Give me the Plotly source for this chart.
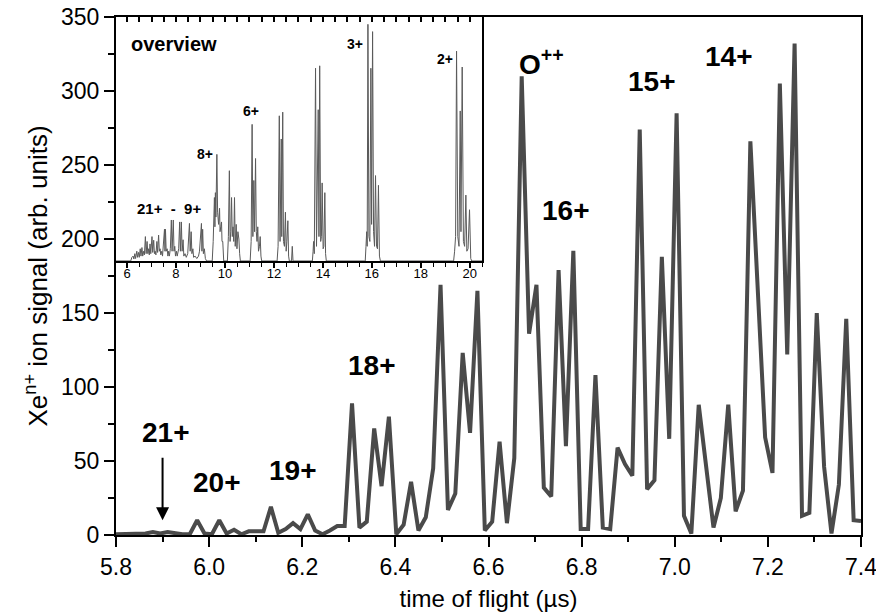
import plotly.graph_objects as go

# ---------------- main spectrum (time of flight in microseconds) ----------------
tof_us = [5.8000, 5.8158, 5.8317, 5.8475, 5.8634, 5.8792, 5.8950, 5.9109, 5.9267, 5.9426,
          5.9584, 5.9743, 5.9901, 6.0059, 6.0218, 6.0376, 6.0535, 6.0693, 6.0851, 6.1010,
          6.1168, 6.1327, 6.1485, 6.1644, 6.1802, 6.1960, 6.2119, 6.2277, 6.2436, 6.2594,
          6.2752, 6.2911, 6.3069, 6.3228, 6.3386, 6.3545, 6.3703, 6.3861, 6.4020, 6.4178,
          6.4337, 6.4495, 6.4653, 6.4812, 6.4970, 6.5129, 6.5287, 6.5446, 6.5604, 6.5762,
          6.5921, 6.6079, 6.6238, 6.6396, 6.6554, 6.6713, 6.6871, 6.7030, 6.7188, 6.7347,
          6.7505, 6.7663, 6.7822, 6.7980, 6.8139, 6.8297, 6.8455, 6.8614, 6.8772, 6.8931,
          6.9089, 6.9248, 6.9406, 6.9564, 6.9723, 6.9881, 7.0040, 7.0198, 7.0356, 7.0515,
          7.0673, 7.0832, 7.0990, 7.1149, 7.1307, 7.1465, 7.1624, 7.1782, 7.1941, 7.2099,
          7.2257, 7.2416, 7.2574, 7.2733, 7.2891, 7.3050, 7.3208, 7.3366, 7.3525, 7.3683,
          7.3842, 7.4000]

signal = [0.5, 0.5, 0.5, 0.5, 1, 2, 1, 2, 1, 0.5,
          0.5, 10, 1, 0.5, 10, 1, 3.5, 0.5, 2.5, 2.5,
          2.5, 19, 1.5, 4, 8, 4, 14, 3, 0.5, 3,
          6, 6, 89, 5, 9, 72, 33, 80, 0.5, 7,
          36, 3, 12, 45, 169, 17, 28, 123, 69, 165,
          3, 9, 63, 8, 52, 310, 136, 169, 32, 26,
          179, 60, 192, 4, 4, 108, 5, 4, 59, 48,
          40, 274, 31, 37, 188, 65, 285, 13, 1, 88,
          46, 5, 25, 88, 16, 30, 266, 166, 66, 42,
          305, 122, 332, 13, 15, 150, 46, 1, 34, 146,
          10, 9.5]

main_x_ticks = [5.8, 6.0, 6.2, 6.4, 6.6, 6.8, 7.0, 7.2, 7.4]
main_x_ticktext = ["5.8", "6.0", "6.2", "6.4", "6.6", "6.8", "7.0", "7.2", "7.4"]

# labels of the main spectrum
main_labels = ["21+", "20+", "19+", "18+", "O<sup>++</sup>", "16+", "15+", "14+"]
main_label_x = [5.907, 6.017, 6.180, 6.350, 6.713, 6.766, 6.951, 7.117]
main_label_y = [69.5, 35.5, 43.5, 114.5, 319.3, 219.3, 306.3, 323.3]

# ---------------- overview inset ----------------
ov_t = [5.55, 6.15, 6.20, 6.25, 6.28, 6.32, 6.35, 6.40, 6.43, 6.47, 6.50, 6.54, 6.57, 6.61, 6.64,
        6.68, 6.71, 6.75, 6.78, 6.82, 6.85, 6.88, 6.91, 6.94, 6.97, 7.02, 7.05, 7.09, 7.12, 7.15,
        7.18, 7.22, 7.25, 7.29, 7.32, 7.35, 7.38, 7.42, 7.45, 7.50, 7.53, 7.55, 7.57, 7.60, 7.64,
        7.67, 7.70, 7.73, 7.77, 7.81, 7.84, 7.89, 7.92, 7.95, 7.98, 8.02, 8.05, 8.11, 8.15, 8.18,
        8.22, 8.25, 8.29, 8.32, 8.37, 8.42, 8.48, 8.55, 8.58, 8.62, 8.65, 8.69, 8.72, 8.78, 8.85,
        8.92, 8.96, 9.04, 9.06, 9.09, 9.12, 9.16, 9.20, 9.25, 9.45,
        9.48, 9.52, 9.55, 9.57, 9.59, 9.61, 9.63, 9.67, 9.70, 9.74, 9.78, 9.80, 9.83, 9.86, 9.88,
        9.91, 9.95, 10.08,
        10.10, 10.14, 10.18, 10.21, 10.24, 10.27, 10.30, 10.33, 10.36, 10.39, 10.42, 10.46, 10.49,
        10.53, 10.57, 10.60, 10.63, 11.00,
        11.03, 11.07, 11.11, 11.14, 11.18, 11.21, 11.25, 11.28, 11.31, 11.34, 11.37, 11.41, 11.44,
        11.47, 11.50, 12.10,
        12.13, 12.17, 12.22, 12.25, 12.30, 12.32, 12.36, 12.39, 12.43, 12.47, 12.50, 12.53, 12.57,
        12.60, 12.63, 12.72, 12.75, 12.78, 13.55,
        13.57, 13.60, 13.62, 13.65, 13.70, 13.74, 13.81, 13.84, 13.87, 13.91, 13.94, 13.97, 14.01,
        14.04, 14.08, 14.11, 14.14, 15.70,
        15.73, 15.76, 15.79, 15.81, 15.84, 15.88, 15.92, 15.96, 15.99, 16.03, 16.07, 16.11, 16.15,
        16.19, 16.23, 16.27, 16.31, 16.35, 19.32,
        19.34, 19.38, 19.42, 19.46, 19.51, 19.56, 19.61, 19.64, 19.69, 19.74, 19.79, 19.84, 19.88,
        19.93, 19.99, 20.04, 20.08, 20.50]

ov_v = [0, 0, 1.5, 2, 0.8, 3, 1, 4, 1.5, 3.5, 1.5, 5, 2, 5.5, 2,
        4, 2.5, 10, 3, 8, 3, 5, 2.5, 7, 3, 10, 3.5, 8.5, 3, 4,
        2.5, 8, 3.5, 10.6, 4, 5, 2.5, 4, 2, 8, 13, 4, 13, 4, 5,
        2, 4, 2, 5, 16.8, 4, 16.8, 4, 6, 2, 4, 2, 5, 16, 4,
        16, 4, 8.7, 2, 3, 1.5, 3, 15.4, 4, 12, 3, 5, 1.5, 2, 1,
        2, 4, 15.4, 4, 13, 3, 5, 1, 0, 0,
        0, 8, 18, 26, 14, 28, 18, 43.7, 20, 15, 21.6, 12, 14, 16, 8,
        8, 0, 0,
        0, 10, 37, 8, 12, 26, 10, 14, 8, 26, 6, 15, 5,
        12, 9, 3, 0, 0,
        0, 8, 56, 10, 33, 12, 42, 12, 8, 14, 4, 6, 10,
        2, 0, 0,
        0, 6, 59.5, 8, 50, 10, 61, 8, 6, 20, 4, 8, 16.5,
        2, 0, 0, 6, 0, 0,
        0, 4, 8, 3, 79, 6, 62, 10, 80, 8, 10, 32, 5,
        6, 28, 3, 0, 0,
        0, 6, 12, 6, 97, 10, 8, 79, 15, 94, 12, 6, 35,
        6, 5, 31, 2, 0, 0,
        0, 4, 10, 86, 10, 6, 61.5, 12, 79.5, 8, 6, 27, 4,
        5, 21, 1, 0, 0]

ov_labels = ["overview", "3+", "2+", "6+", "8+", "21+  -  9+"]
ov_label_t = [7.91, 15.30, 18.98, 11.08, 9.20, 7.73]
ov_label_v = [89, 89, 82.6, 61.6, 43.8, 21.5]
ov_label_size = [20, 14, 14, 14, 14, 15]

inset_ticks = [6, 8, 10, 12, 14, 16, 18, 20]

FONT = "Liberation Sans, Arial, Helvetica, sans-serif"

fig = go.Figure()
fig.add_trace(go.Scatter(x=tof_us, y=signal, mode="lines",
                         line=dict(color="#4a4a4a", width=4),
                         xaxis="x", yaxis="y", hoverinfo="skip"))
fig.add_trace(go.Scatter(x=ov_t, y=ov_v, mode="lines",
                         line=dict(color="#5a5a5a", width=1),
                         xaxis="x2", yaxis="y2", hoverinfo="skip"))
# helper (invisible) trace so the top tick axis of the inset is drawn
fig.add_trace(go.Scatter(x=[6], y=[-10], mode="markers", marker=dict(opacity=0),
                         xaxis="x3", yaxis="y2", hoverinfo="skip"))

annotations = []
for txt, x, y in zip(main_labels, main_label_x, main_label_y):
    annotations.append(dict(x=x, y=y, xref="x", yref="y", text="<b>" + txt + "</b>",
                            showarrow=False, xanchor="center", yanchor="middle",
                            font=dict(family=FONT, size=28, color="black")))
# arrow pointing at 21+
annotations.append(dict(x=5.9, y=10, xref="x", yref="y", text="", showarrow=True,
                        ax=0, ay=-64, arrowhead=2, arrowsize=1.3, arrowwidth=2,
                        arrowcolor="black"))
for txt, t, v, s in zip(ov_labels, ov_label_t, ov_label_v, ov_label_size):
    annotations.append(dict(x=t, y=v, xref="x2", yref="y2", text="<b>" + txt + "</b>",
                            showarrow=False, xanchor="center", yanchor="middle",
                            font=dict(family=FONT, size=s, color="black")))

fig.update_layout(
    width=876, height=616,
    margin=dict(l=116, r=15, t=17, b=81),
    paper_bgcolor="white", plot_bgcolor="white",
    showlegend=False,
    font=dict(family=FONT, color="black"),
    xaxis=dict(domain=[0, 1], range=[5.8, 7.4], tickmode="array", tickvals=main_x_ticks,
               ticktext=main_x_ticktext, ticks="outside", ticklen=10, tickwidth=2,
               tickcolor="black", ticklabeloverflow="allow", automargin=False,
               minor=dict(dtick=0.1, tick0=5.8, ticks="outside", ticklen=5, tickwidth=1.5,
                          tickcolor="black"),
               showline=True, linewidth=2, linecolor="black", mirror=True,
               showgrid=False, zeroline=False, tickfont=dict(size=23),
               title=dict(text="time of flight (µs)", font=dict(size=24), standoff=12)),
    yaxis=dict(domain=[0, 1], range=[0, 350], tickmode="linear", tick0=0, dtick=50,
               ticks="outside", ticklen=10, tickwidth=2, tickcolor="black",
               automargin=False,
               minor=dict(dtick=25, tick0=0, ticks="outside", ticklen=6, tickwidth=1.5,
                          tickcolor="black"),
               showline=True, linewidth=2, linecolor="black", mirror=True,
               showgrid=False, zeroline=False, tickfont=dict(size=23),
               title=dict(text="Xe<sup>n+</sup> ion signal (arb. units)", font=dict(size=26),
                          standoff=6)),
    xaxis2=dict(domain=[0, 0.4913], anchor="y2", range=[5.55, 20.5],
                tickmode="array", tickvals=inset_ticks, automargin=False,
                ticks="outside", ticklen=5, tickwidth=1.5, tickcolor="black",
                ticklabelstandoff=-6,
                minor=dict(dtick=0.5, tick0=6, ticks="outside", ticklen=4, tickwidth=1,
                           tickcolor="black"),
                showline=True, linewidth=2, linecolor="black", mirror=True,
                showgrid=False, zeroline=False, tickfont=dict(size=13)),
    yaxis2=dict(domain=[0.529, 1], anchor="x2", range=[0, 100], automargin=False,
                showticklabels=False, ticks="",
                showline=True, linewidth=2, linecolor="black", mirror=True,
                showgrid=False, zeroline=False),
    xaxis3=dict(overlaying="x2", anchor="y2", side="top", range=[5.55, 20.5],
                tickmode="linear", tick0=6, dtick=0.5, ticks="inside", ticklen=5,
                tickwidth=1.5, tickcolor="black", showticklabels=False, automargin=False,
                showline=False, showgrid=False, zeroline=False),
    annotations=annotations,
)

fig.write_html("out.html")
